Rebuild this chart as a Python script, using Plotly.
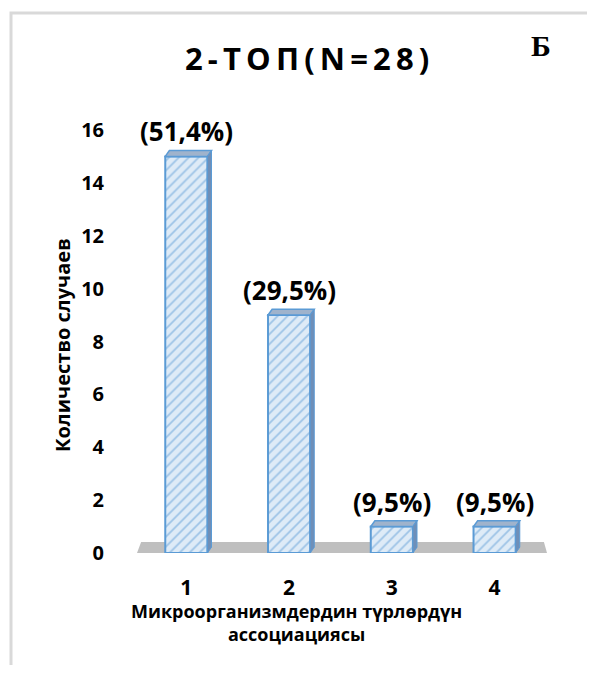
import plotly.graph_objects as go

categories = [1, 2, 3, 4]
cases = [15, 9, 1, 1]
pct_labels = ["(51,4%)", "(29,5%)", "(9,5%)", "(9,5%)"]
y_ticks = [0, 2, 4, 6, 8, 10, 12, 14, 16]

title_text = "2-ТОП(N=28)"
panel_letter = "Б"
y_title = "Количество случаев"
x_title = "Микроорганизмдердин түрлөрдүн<br>ассоциациясы"

OFF = 8  # page body margin
W, H = 596 - 2 * OFF, 673 - 2 * OFF
# plot area in page pixels: x 137..547, y 130..553
L = 137 - OFF
T = 130 - OFF
R = W - (547 - OFF)
B = H - (553 - OFF)
BAR_W = 0.41
FILL = "#DEEBF7"
EDGE = "#5B9BD5"
FONT = "Open Sans"

fig = go.Figure()
fig.add_trace(go.Bar(
    x=categories, y=cases, width=BAR_W,
    marker=dict(color=FILL, line=dict(color=EDGE, width=2),
                pattern=dict(shape="/", fgcolor=EDGE, bgcolor=FILL, size=7, solidity=0.25)),
    showlegend=False, hoverinfo="skip",
))

shapes = []
shapes.append(dict(type="path", xref="x", yref="y", layer="below",
                   path="M 0.52,0.0 L 4.51,0.0 L 4.48,0.42 L 0.56,0.42 Z",
                   fillcolor="#BFBFBF", line=dict(width=0)))
dx, dy = 0.04, 0.22
for xc, v in zip(categories, cases):
    x0, x1 = xc - BAR_W / 2, xc + BAR_W / 2
    shapes.append(dict(type="path", xref="x", yref="y",
                       path=f"M {x0},{v} L {x1},{v} L {x1+dx},{v+dy} L {x0+dx},{v+dy} Z",
                       fillcolor="#9FB3CC", line=dict(color=EDGE, width=1.5)))
    shapes.append(dict(type="path", xref="x", yref="y",
                       path=f"M {x1},{0} L {x1+dx},{dy} L {x1+dx},{v+dy} L {x1},{v} Z",
                       fillcolor="#6F8FB8", line=dict(color=EDGE, width=1)))


def px2paper_x(px):
    return (px - OFF - L) / (W - L - R)


def px2paper_y(py):
    return (H - B - (py - OFF)) / (H - T - B)


shapes.append(dict(type="path", xref="paper", yref="paper",
                   path=(f"M {px2paper_x(11)},{px2paper_y(OFF + H)} L {px2paper_x(11)},{px2paper_y(13)} "
                         f"L {px2paper_x(OFF + W - 1)},{px2paper_y(13)}"),
                   line=dict(color="#D9D9D9", width=3)))

annotations = []
for xc, v, t in zip(categories, cases, pct_labels):
    annotations.append(dict(x=xc, y=v, xref="x", yref="y", text=f"<b>{t}</b>",
                            showarrow=False, yshift=25, xanchor="center", yanchor="middle",
                            font=dict(family=FONT, size=26, color="#000000")))

spaced_title = "\u2009".join(list(title_text))
annotations.append(dict(x=px2paper_x(307), y=px2paper_y(58), xref="paper", yref="paper",
                        text=f"<b>{spaced_title}</b>", showarrow=False,
                        xanchor="center", yanchor="middle",
                        font=dict(family=FONT, size=31, color="#000000")))
annotations.append(dict(x=px2paper_x(541), y=px2paper_y(45), xref="paper", yref="paper",
                        text=f"<b>{panel_letter}</b>", showarrow=False,
                        xanchor="center", yanchor="middle",
                        font=dict(family="Liberation Serif", size=30, color="#000000")))
annotations.append(dict(x=px2paper_x(62), y=px2paper_y(345), xref="paper", yref="paper",
                        text=f"<b>{y_title}</b>", showarrow=False, textangle=-90,
                        xanchor="center", yanchor="middle",
                        font=dict(family=FONT, size=20, color="#000000")))
annotations.append(dict(x=px2paper_x(296), y=px2paper_y(622), xref="paper", yref="paper",
                        text=f"<b>{x_title}</b>", showarrow=False,
                        xanchor="center", yanchor="middle",
                        font=dict(family=FONT, size=18, color="#000000")))

fig.update_layout(
    width=W, height=H,
    margin=dict(l=L, r=R, t=T, b=B, pad=0),
    paper_bgcolor="white", plot_bgcolor="white",
    shapes=shapes, annotations=annotations,
    font=dict(family=FONT, color="#000000"),
    xaxis=dict(range=[0.52, 4.51], tickvals=categories, ticktext=[f"<b>{c}</b>" for c in categories],
               showgrid=False, zeroline=False, showline=False,
               ticks="outside", ticklen=16, tickcolor="rgba(0,0,0,0)",
               tickfont=dict(family=FONT, size=21), fixedrange=True),
    yaxis=dict(range=[0, 16], tickvals=y_ticks, ticktext=[f"<b>{t}</b>" for t in y_ticks],
               showgrid=False, zeroline=False, showline=False,
               ticks="outside", ticklen=28, tickcolor="rgba(0,0,0,0)",
               tickfont=dict(family=FONT, size=20), fixedrange=True),
    bargap=0.5,
)

fig.write_html("out.html", config={"displayModeBar": False})
